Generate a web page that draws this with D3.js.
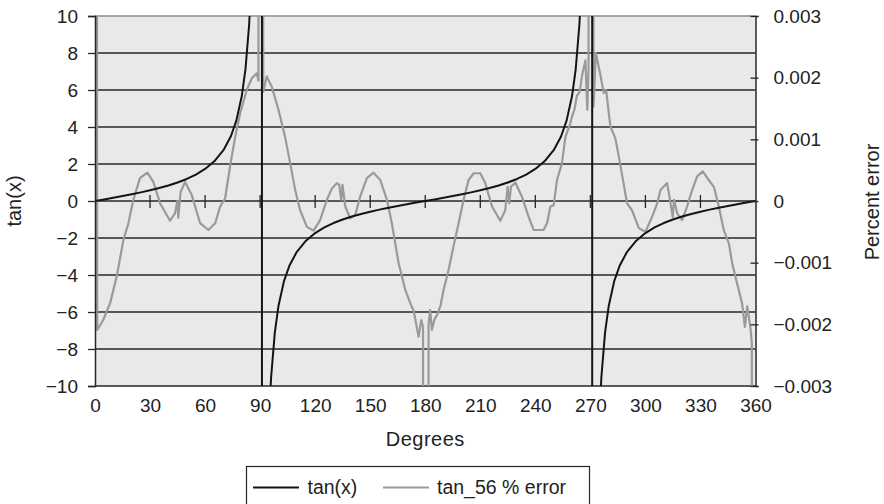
<!DOCTYPE html>
<html>
<head>
<meta charset="utf-8">
<script src="https://cdn.jsdelivr.net/npm/d3@7"></script>
<style>
  html, body { margin: 0; padding: 0; background: #ffffff; }
  svg { display: block; }
  text { font-family: "Liberation Sans", Arial, Helvetica, sans-serif; fill: #222; }
</style>
</head>
<body>
<svg id="chart" width="884" height="504"></svg>
<script>
// ---------- DATA ----------
const xTicks = [0, 30, 60, 90, 120, 150, 180, 210, 240, 270, 300, 330, 360];
const leftTicks = [-10, -8, -6, -4, -2, 0, 2, 4, 6, 8, 10];
const rightTicks = [-0.003, -0.002, -0.001, 0, 0.001, 0.002, 0.003];
const seriesNames = ["tan(x)", "tan_56 % error"];

// tan(x) series (degrees, value); 90 and 270 are far off the scale
const tanDeg = [0, 5, 10, 15, 20, 25, 30, 35, 40, 45, 50, 55, 60, 65, 70, 74, 77, 80, 82, 84, 85, 89, 90,
  91, 95, 96, 98, 100, 103, 106, 110, 115, 120, 125, 130, 135, 140, 145, 150, 155, 160, 165, 170, 175, 180,
  185, 190, 195, 200, 205, 210, 215, 220, 225, 230, 235, 240, 245, 250, 254, 257, 260, 262, 264, 265, 269, 270,
  271, 275, 276, 278, 280, 283, 286, 290, 295, 300, 305, 310, 315, 320, 325, 330, 335, 340, 345, 350, 355, 360];
const tanVal = [0, 0.087, 0.176, 0.268, 0.364, 0.466, 0.577, 0.700, 0.839, 1.0, 1.192, 1.428, 1.732, 2.145, 2.747, 3.487, 4.331, 5.671, 7.115, 9.514, 11.43, 57.29, 5730,
  -57.29, -11.43, -9.514, -7.115, -5.671, -4.331, -3.487, -2.747, -2.145, -1.732, -1.428, -1.192, -1.0, -0.839, -0.700, -0.577, -0.466, -0.364, -0.268, -0.176, -0.087, 0,
  0.087, 0.176, 0.268, 0.364, 0.466, 0.577, 0.700, 0.839, 1.0, 1.192, 1.428, 1.732, 2.145, 2.747, 3.487, 4.331, 5.671, 7.115, 9.514, 11.43, 57.29, 5730,
  -57.29, -11.43, -9.514, -7.115, -5.671, -4.331, -3.487, -2.747, -2.145, -1.732, -1.428, -1.192, -1.0, -0.839, -0.700, -0.577, -0.466, -0.364, -0.268, -0.176, -0.087, 0];

// tan_56 percent error series (degrees, value); +/-0.05 marks points far off the scale
const errDeg = [0, 1.2, 4.5, 8.2, 11.8, 15.5, 18.2, 20.9, 24.5, 28.5, 31.8, 35.5, 40.9, 43.6, 44.9, 45.4, 46.7, 49.1, 52.7, 57.3, 61.8, 65.5, 68.2, 70.9,
  73.6, 76.4, 79.1, 82.7, 85.5, 88.2, 89.1, 89.3, 91.4, 91.7, 93.6, 96.4, 100.0, 103.6, 106.4, 109.1, 111.8, 115.5, 119.1, 122.7, 126.4, 129.1,
  131.8, 133.1, 134.2, 134.9, 136.4, 139.1, 141.8, 144.5, 148.2, 151.8, 155.5, 159.1, 161.8, 165.5, 169.1, 172.7, 173.6, 176.4, 177.8, 178.8, 179.0,
  181.6, 181.8, 182.7, 183.6, 185.0, 186.4, 188.2, 190.0, 192.7, 195.5, 198.2, 200.9, 203.6, 206.4, 210.0, 212.7, 216.4, 220.9, 223.6, 224.9, 225.8,
  226.7, 229.1, 232.7, 236.4, 239.1, 244.5, 246.4, 248.2, 250.0, 251.8, 254.5, 256.4, 259.1, 260.0, 261.3, 262.7, 264.2, 265.5, 267.3, 268.3, 269.0,
  269.4, 271.2, 271.7, 273.0, 275.5, 277.3, 278.6, 280.9, 283.6, 285.5, 287.3, 290.0, 292.7, 296.4, 300.0, 303.6, 306.4, 308.2, 311.8, 313.1, 314.9,
  315.6, 317.3, 320.0, 322.7, 325.5, 328.2, 331.3, 334.5, 337.3, 340.0, 342.7, 345.5, 347.3, 350.0, 352.7, 354.2, 355.5, 357.3, 358.0, 358.6, 360];
const errVal = [0.05, -0.00209, -0.00193, -0.00166, -0.00123, -0.00063, -0.00036, 0.00002, 0.00037, 0.00046, 0.00031, -0.00004, -0.00032, -0.00020, 0, -0.00027, 0.00015, 0.00031, 0.00010, -0.00036, -0.00047, -0.00036, -0.00009, 0.00004,
  0.00056, 0.00104, 0.00142, 0.00180, 0.00199, 0.00207, 0.00195, 0.05, 0.05, 0.00177, 0.00202, 0.00185, 0.00148, 0.00104, 0.00061, 0.00018, -0.00015, -0.00042, -0.00048, -0.00031, 0.00002, 0.00020,
  0.00029, 0.00026, 0.00002, 0.00026, -0.00009, -0.00028, -0.00023, 0.00007, 0.00037, 0.00046, 0.00034, 0.00002, -0.00036, -0.00101, -0.00144, -0.00172, -0.00177, -0.00220, -0.00193, -0.00205, -0.05,
  -0.05, -0.00200, -0.00177, -0.00209, -0.00192, -0.00185, -0.00171, -0.00144, -0.00112, -0.00072, -0.00036, 0.00002, 0.00034, 0.00045, 0.00045, 0.00029, -0.00009, -0.00032, -0.00015, 0.00023, -0.00004,
  0.00023, 0.00030, 0.00007, -0.00026, -0.00047, -0.00047, -0.00036, -0.00009, -0.00007, 0.00034, 0.00061, 0.00104, 0.00126, 0.00137, 0.00148, 0.00171, 0.00177, 0.00204, 0.00228, 0.00148, 0.00212,
  0.05, 0.05, 0.00153, 0.00240, 0.00204, 0.00175, 0.00180, 0.00121, 0.00102, 0.00072, 0.00042, -0.00004, -0.00015, -0.00044, -0.00050, -0.00026, -0.00004, 0.00018, 0.00029, 0.00007, -0.00026,
  0.00002, -0.00020, -0.00031, -0.00009, 0.00018, 0.00040, 0.00048, 0.00034, 0.00023, -0.00009, -0.00047, -0.00069, -0.00101, -0.00134, -0.00166, -0.00204, -0.00171, -0.00207, -0.00231, -0.05, -0.05];

// ---------- LAYOUT ----------
const svg = d3.select("#chart");
const L = 95, R = 755.5, T = 16, B = 386;
const x = d3.scaleLinear().domain([0, 360]).range([L, R]);
const yL = d3.scaleLinear().domain([-10, 10]).range([B, T]);
const yR = d3.scaleLinear().domain([-0.003, 0.003]).range([B, T]);
const dark = "#262626";
const FS = "19px";
const FS2 = "20px";

svg.append("defs").append("clipPath").attr("id", "plotclip")
  .append("rect").attr("x", L).attr("y", T).attr("width", R - L).attr("height", B - T);

// plot background
svg.append("rect").attr("x", L).attr("y", T).attr("width", R - L).attr("height", B - T)
  .attr("fill", "#e9e9ec");

// horizontal gridlines
svg.append("g").selectAll("line").data(leftTicks.filter(d => d > -10 && d < 10)).join("line")
  .attr("x1", L).attr("x2", R).attr("y1", d => yL(d)).attr("y2", d => yL(d))
  .attr("stroke", dark).attr("stroke-width", 1.3);

// top border (gray) and bottom border
svg.append("line").attr("x1", L).attr("x2", R).attr("y1", T).attr("y2", T)
  .attr("stroke", "#a6a6a6").attr("stroke-width", 2);
svg.append("line").attr("x1", L).attr("x2", R).attr("y1", B).attr("y2", B)
  .attr("stroke", dark).attr("stroke-width", 1.5);

// tick marks on the zero line
svg.append("g").selectAll("line").data(xTicks.filter(d => d > 0 && d < 360)).join("line")
  .attr("x1", d => x(d)).attr("x2", d => x(d)).attr("y1", yL(0) - 6).attr("y2", yL(0) + 7)
  .attr("stroke", dark).attr("stroke-width", 1.3);

// series
const plot = svg.append("g").attr("clip-path", "url(#plotclip)");
const errLine = d3.line().x(d => x(d[0])).y(d => yR(d[1]));
const tanLine = d3.line().x(d => x(d[0])).y(d => yL(d[1]));
plot.append("path").datum(d3.zip(errDeg, errVal)).attr("d", errLine)
  .attr("fill", "none").attr("stroke", "#9a9a9a").attr("stroke-width", 2.2).attr("stroke-linejoin", "round");
plot.append("path").datum(d3.zip(tanDeg, tanVal)).attr("d", tanLine)
  .attr("fill", "none").attr("stroke", "#141414").attr("stroke-width", 2).attr("stroke-linejoin", "round");

// left axis
const gl = svg.append("g").attr("transform", `translate(${L},0)`)
  .call(d3.axisLeft(yL).tickValues(leftTicks).tickSize(7).tickPadding(10)
    .tickFormat(d => d < 0 ? "\u2212" + Math.abs(d) : String(d)));
gl.select(".domain").attr("stroke", dark).attr("stroke-width", 1.5);
gl.selectAll(".tick line").attr("stroke", dark).attr("stroke-width", 1.3).attr("x2", -7).attr("x1", 1);
gl.selectAll(".tick text").attr("font-size", FS).attr("fill", "#222")
  .style("font-family", '"Liberation Sans", Arial, sans-serif');

// right axis
const gr = svg.append("g").attr("transform", `translate(${R},0)`)
  .call(d3.axisRight(yR).tickValues(rightTicks).tickSize(3).tickPadding(15)
    .tickFormat(d => Math.abs(d) < 1e-9 ? "0" : (d < 0 ? "\u2212" + d3.format(".3f")(-d) : d3.format(".3f")(d))));
gr.select(".domain").attr("stroke", dark).attr("stroke-width", 1.5);
gr.selectAll(".tick line").attr("stroke", dark).attr("stroke-width", 1.3).attr("x1", -5).attr("x2", 3);
gr.selectAll(".tick text").attr("font-size", FS).attr("fill", "#222")
  .style("font-family", '"Liberation Sans", Arial, sans-serif');

// bottom axis labels (no ticks)
const gb = svg.append("g").attr("transform", `translate(0,${B})`)
  .call(d3.axisBottom(x).tickValues(xTicks).tickSize(0).tickPadding(13).tickFormat(d3.format("d")));
gb.select(".domain").remove();
gb.selectAll(".tick text").attr("font-size", FS).attr("fill", "#222")
  .style("font-family", '"Liberation Sans", Arial, sans-serif');

// axis titles
svg.append("text").attr("x", (L + R) / 2).attr("y", 446).attr("text-anchor", "middle")
  .attr("font-size", FS2).attr("letter-spacing", "0.5px").text("Degrees");
svg.append("text").attr("transform", "translate(21,201) rotate(-90)").attr("text-anchor", "middle")
  .attr("font-size", FS2).text("tan(x)");
svg.append("text").attr("transform", "translate(879,202) rotate(-90)").attr("text-anchor", "middle")
  .attr("font-size", FS2).text("Percent error");

// legend
const lg = svg.append("g");
lg.append("rect").attr("x", 246.5).attr("y", 466.5).attr("width", 343).attr("height", 45)
  .attr("fill", "#fff").attr("stroke", dark).attr("stroke-width", 1.2);
const legendItems = [
  { name: seriesNames[0], color: "#141414", x1: 253, tx: 307.5 },
  { name: seriesNames[1], color: "#9a9a9a", x1: 383, tx: 437 }
];
legendItems.forEach(it => {
  lg.append("line").attr("x1", it.x1).attr("x2", it.x1 + 46).attr("y1", 487.5).attr("y2", 487.5)
    .attr("stroke", it.color).attr("stroke-width", 2);
  lg.append("text").attr("x", it.tx).attr("y", 494).attr("font-size", "19.5px").text(it.name);
});
</script>
</body>
</html>
